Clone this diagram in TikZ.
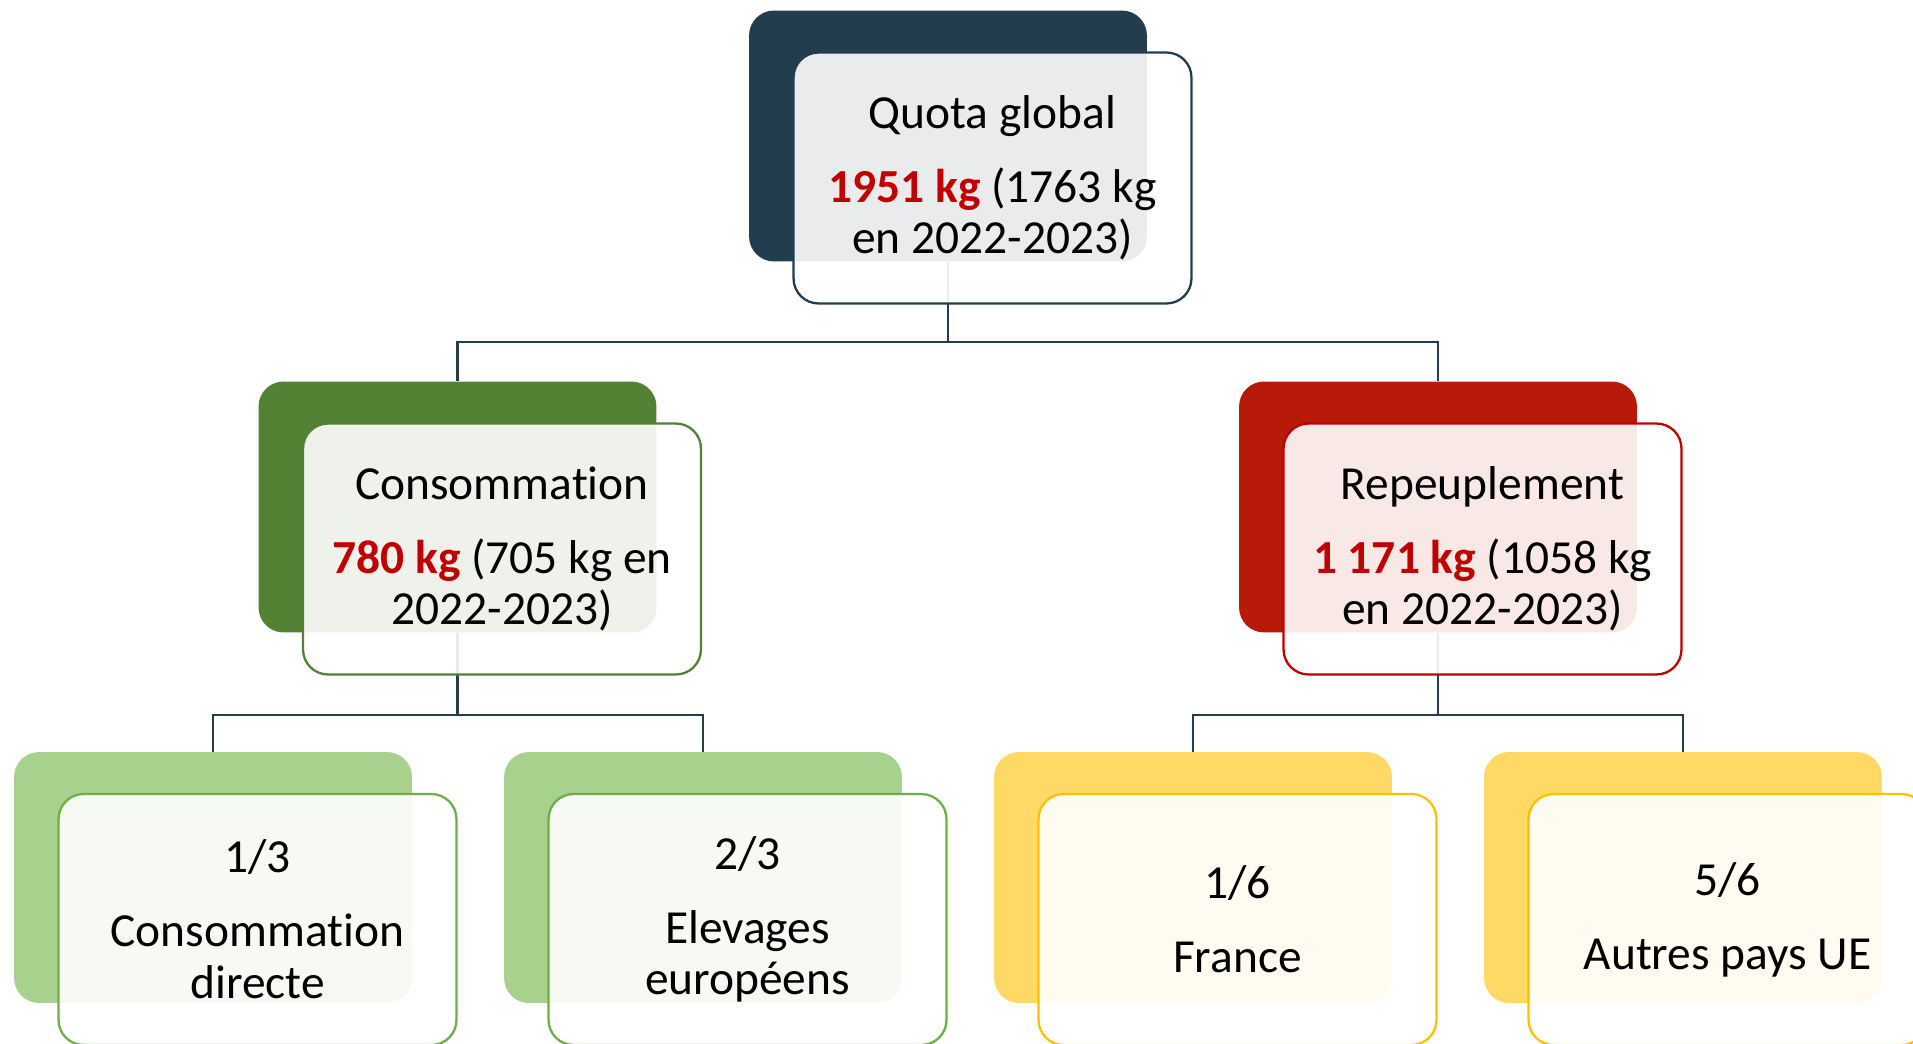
\documentclass[tikz,border=0pt]{standalone}
\usepackage{fontspec}
\setmainfont{Carlito}[Ligatures=NoCommon]
\usepackage{xcolor}
\usetikzlibrary{calc,positioning}
\definecolor{quotablue}{HTML}{223D4E}
\definecolor{consogreen}{HTML}{548235}
\definecolor{repeured}{HTML}{B81A0A}
\definecolor{sproutgreen}{HTML}{A9D18E}
\definecolor{sproutedge}{HTML}{70AD47}
\definecolor{sungold}{HTML}{FFD966}
\definecolor{sunedge}{HTML}{FFC000}
\definecolor{edgered}{HTML}{C00000}
\definecolor{kgred}{HTML}{C00000}
\tikzset{
  back/.style={ % coloured card lying behind
    rectangle, rounded corners=0.5cm, fill=#1,
    minimum width=7.96cm, minimum height=5.02cm, inner sep=0pt
  },
  front/.style={ % light card carrying the text
    rectangle, rounded corners=0.5cm, draw=#1, line width=1.3pt,
    fill=white, fill opacity=0.9, text opacity=1, text=black,
    minimum width=7.96cm, minimum height=5.02cm, inner sep=0pt,
    align=center
  },
  link/.style={draw=quotablue, line width=1.3pt}
}
\newcommand{\kg}[1]{\textcolor{kgred}{\textbf{#1}}}
\begin{document}
\begin{tikzpicture}[x=0.02cm, y=-0.02cm, font=\fontsize{27}{29.5}\selectfont]
  \clip (0,0) rectangle (1913,1044);

  % cards behind
  \node[back=quotablue] (quota) at (948,136) {};
  \node[back=consogreen] (conso) at (457.5,507) {};
  \node[back=repeured] (repeu) at (1438,507) {};
  \node[back=sproutgreen] (direct) at (213,877.5) {};
  \node[back=sproutgreen] (elev) at (703,877.5) {};
  \node[back=sungold] (france) at (1193,877.5) {};
  \node[back=sungold] (autres) at (1683,877.5) {};

  % tree lines
  \coordinate (q_split) at ($(quota.south)+(0,80)$);
  \coordinate (c_split) at ($(conso.south)+(0,82)$);
  \coordinate (r_split) at ($(repeu.south)+(0,82)$);
  \draw[link] (quota.south) -- (q_split) -| (conso.north);
  \draw[link] (q_split) -| (repeu.north);
  \draw[link] (conso.south) -- (c_split) -| (direct.north);
  \draw[link] (c_split) -| (elev.north);
  \draw[link] (repeu.south) -- (r_split) -| (france.north);
  \draw[link] (r_split) -| (autres.north);

  % cards in front
  \node[front=quotablue] (quota_txt) at ($(quota)+(44.5,42)$)
    {Quota global\\[12.5pt]\kg{1951 kg} (1763 kg\\en 2022-2023)};
  \node[front=consogreen] (conso_txt) at ($(conso)+(44.5,42)$)
    {Consommation\\[12.5pt]\kg{780 kg} (705 kg en\\2022-2023)};
  \node[front=edgered] (repeu_txt) at ($(repeu)+(44.5,42)$)
    {Repeuplement\\[12.5pt]\kg{1 171 kg} (1058 kg\\en 2022-2023)};
  \node[front=sproutedge] (direct_txt) at ($(direct)+(44.5,42)$)
    {1/3\\[12.5pt]Consommation\\directe};
  \node[front=sproutedge] (elev_txt) at ($(elev)+(44.5,42)$)
    {2/3\\[12.5pt]Elevages\\européens};
  \node[front=sunedge] (france_txt) at ($(france)+(44.5,42)$)
    {1/6\\[12.5pt]France};
  \node[front=sunedge] (autres_txt) at ($(autres)+(44.5,42)$)
    {5/6\\[12.5pt]Autres pays UE};
\end{tikzpicture}
\end{document}
